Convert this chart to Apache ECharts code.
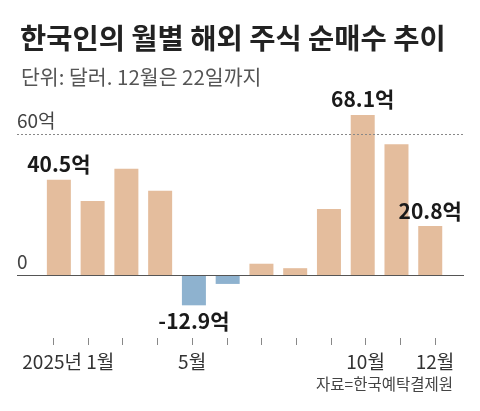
<!DOCTYPE html>
<html>
<head>
<meta charset="utf-8">
<script src="https://cdn.jsdelivr.net/npm/echarts@6/dist/echarts.min.js"></script>
<style>
html, body { margin: 0; padding: 0; background: #fff; }
#chart { width: 480px; height: 411px; }
</style>
</head>
<body>
<div id="chart"></div>
<script>
var months = [1, 2, 3, 4, 5, 6, 7, 8, 9, 10, 11, 12];
var values = [40.5, 31.5, 45.2, 35.8, -12.9, -3.8, 4.8, 2.9, 28.1, 68.1, 55.6, 20.8];
var labelled = [0, 4, 9, 11];
var tickLabels = {1: '2025년 1월', 5: '5월', 10: '10월', 12: '12월'};
var refLines = [60, 0];

var FONT = '"Noto Sans CJK KR", "Noto Sans", sans-serif';

var myChart = echarts.init(document.getElementById('chart'));

var barData = values.map(function (v, i) {
    var item = {
        value: [months[i], v],
        itemStyle: { color: v >= 0 ? '#E4BD9D' : '#8EB2CF' }
    };
    if (labelled.indexOf(i) >= 0) {
        item.label = {
            show: true,
            position: v >= 0 ? 'top' : 'bottom',
            distance: 5,
            formatter: function (p) { return p.value[1] + '억'; },
            fontFamily: FONT,
            fontSize: 21,
            fontWeight: 'bold',
            color: '#1a1a1a'
        };
    }
    return item;
});

option = {
    backgroundColor: '#fff',
    animation: false,
    title: [
        {
            text: '한국인의 월별 해외 주식 순매수 추이',
            left: 15,
            top: 19,
            textStyle: { fontFamily: FONT, fontSize: 28.5, fontWeight: 'bold', color: '#222' }
        },
        {
            text: '단위: 달러. 12월은 22일까지',
            left: 16,
            top: 62,
            textStyle: { fontFamily: FONT, fontSize: 20.5, fontWeight: 'normal', color: '#555' }
        },
        {
            text: '자료=한국예탁결제원',
            right: 22,
            top: 371,
            textStyle: { fontFamily: FONT, fontSize: 15.5, fontWeight: 'normal', color: '#444' }
        }
    ],
    grid: [
        { left: 17, right: 16, top: 110.5, bottom: 89 },
        { left: 18.6, right: 10.3, top: 330, height: 8 }
    ],
    xAxis: [
        { type: 'value', gridIndex: 0, min: -0.24, max: 13.0, show: false },
        {
            type: 'value', gridIndex: 1, min: 0, max: 13, interval: 1,
            axisLine: { show: false },
            splitLine: { show: false },
            axisTick: {
                show: true, length: 7,
                customValues: months,
                lineStyle: { color: '#888', width: 1 }
            },
            axisLabel: {
                show: true,
                margin: 14,
                customValues: [1, 5, 10, 12],
                formatter: function (v) {
                    if (v === 1) return '{first|' + tickLabels[v] + '}';
                    return tickLabels[v] || '';
                },
                fontFamily: FONT,
                fontSize: 19,
                color: '#333',
                rich: {
                    first: { fontFamily: FONT, fontSize: 19, color: '#333', padding: [0, 0, 0, 30] }
                }
            }
        }
    ],
    yAxis: [
        { type: 'value', gridIndex: 0, min: -20, max: 70, show: false },
        { type: 'value', gridIndex: 1, show: false }
    ],
    series: [
        {
            type: 'bar',
            xAxisIndex: 0,
            yAxisIndex: 0,
            barWidth: 24,
            data: barData,
            markLine: {
                silent: true,
                symbol: 'none',
                data: refLines.map(function (v) {
                    return {
                        yAxis: v,
                        lineStyle: v === 0
                            ? { type: 'solid', color: '#555', width: 1 }
                            : { type: [2, 2], color: '#888', width: 1 },
                        label: {
                            show: true,
                            position: 'insideStartTop',
                            distance: [0, 4],
                            formatter: v === 0 ? '0' : v + '억',
                            fontFamily: FONT,
                            fontSize: 19,
                            color: '#444'
                        }
                    };
                })
            }
        }
    ]
};
myChart.setOption(option);
</script>
</body>
</html>
